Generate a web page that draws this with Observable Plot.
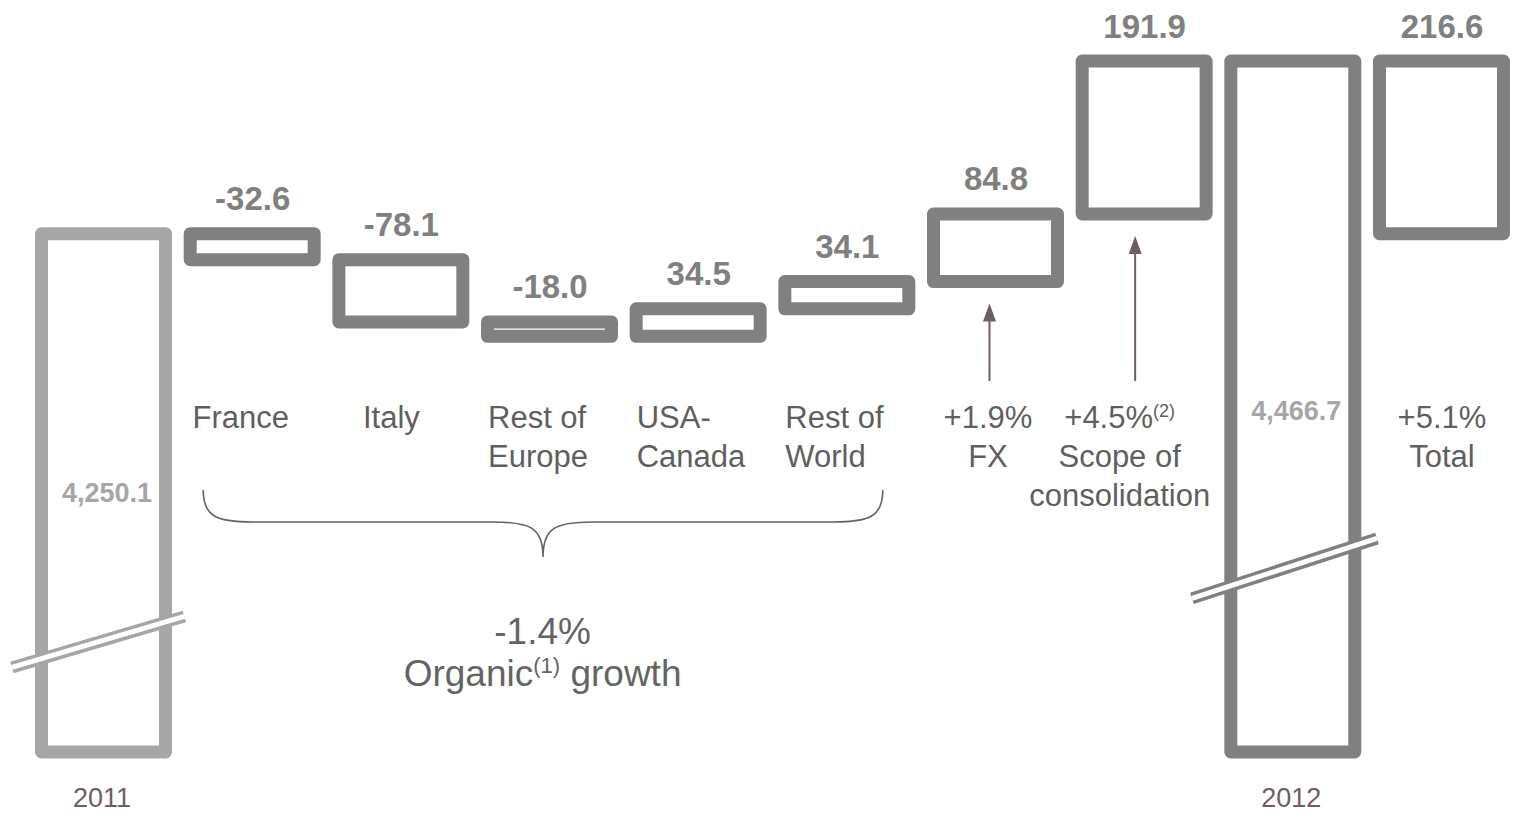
<!DOCTYPE html>
<html><head><meta charset="utf-8">
<script src="https://cdn.jsdelivr.net/npm/d3@7"></script>
<script src="https://cdn.jsdelivr.net/npm/@observablehq/plot@0.6"></script>
<style>
html,body{margin:0;padding:0;background:#fff;}
#chart{width:1516px;height:814px;overflow:hidden;}
#chart svg{font-family:"Liberation Sans", Arial, sans-serif;background:#fff;}
</style></head><body><div id="chart"></div>
<script>
// ---- data ----
const categories = ["2011", "France", "Italy", "Rest of Europe", "USA-Canada", "Rest of World", "FX", "Scope of consolidation", "2012", "Total"];
const values = [4250.1, -32.6, -78.1, -18.0, 34.5, 34.1, 84.8, 191.9, 4466.7, 216.6];
const barKinds = ["start", "delta", "delta", "delta", "delta", "delta", "delta", "delta", "end", "total"];
const categoryLabels = ["", "France", "Italy", "Rest of\nEurope", "USA-\nCanada", "Rest of\nWorld", "+1.9%\nFX", "+4.5%(2)\nScope of\nconsolidation", "", "+5.1%\nTotal"];
const yearLabels = ["2011", "", "", "", "", "", "", "", "2012", ""];
const organicLabel = "-1.4%\nOrganic(1) growth";
const axisFloor = 3600; // broken-axis floor for the two total bars

// ---- derived bars ----
let running = 0;
const bars = categories.map((c, i) => {
  const v = values[i], k = barKinds[i];
  let lo, hi;
  if (k === "start" || k === "end") { lo = axisFloor; hi = v; running = v; }
  else if (k === "delta") { lo = running; hi = running + v; running += v; }
  else { lo = values[0]; hi = values[0] + v; }
  return {i, c, v, k, y1: Math.min(lo, hi), y2: Math.max(lo, hi),
    color: k === "start" ? "#a6a6a6" : "#808080",
    valueText: (k === "delta" || k === "total") ? v.toFixed(1) : "",
    innerText: (k === "start" || k === "end") ? d3.format(",.1f")(v) : "",
    catText: categoryLabels[i], yearText: yearLabels[i]};
});

const HW = 0.417; // half bar width in x units
const fmtAlign = {1: ["middle", -12], 2: ["middle", -10], 3: ["start", 0], 4: ["start", 0], 5: ["start", 0], 6: ["middle", -8], 7: ["middle", -25], 9: ["middle", 0]};

// break marks (in data units)
const breaks = [
  {x1: -0.62, x2: 0.54, y1: 3706.7, y2: 3770.7, color: "#a6a6a6"},
  {x1: 7.318, x2: 8.563, y1: 3793.3, y2: 3868.5, color: "#808080"}
];

function annotations(index, scales) {
  const x = scales.x, y = scales.y;
  const g = d3.create("svg:g");
  const col = "#6d5e66";
  // brace under organic categories (France .. Rest of World)
  const L = x(1 - HW) + 13, R = x(5 + HW) - 26, M = (L + R) / 2;
  const top = 490, mid = 522, tip = 557;
  const p = `M${L},${top} C${L},${mid - 6} ${L + 12},${mid} ${L + 50},${mid} L${M - 50},${mid} C${M - 12},${mid} ${M},${mid + 6} ${M},${tip} C${M},${mid + 6} ${M + 12},${mid} ${M + 50},${mid} L${R - 50},${mid} C${R - 12},${mid} ${R},${mid - 6} ${R},${top}`;
  g.append("path").attr("d", p).attr("fill", "none").attr("stroke", col).attr("stroke-width", 1.6);
  // arrows from labels up to FX and Scope bars
  [[6, -6], [7, -9]].forEach(([i, dx]) => {
    const b = bars[i];
    const ax = x(i) + dx, tipY = y(b.y1) + 22, tail = 381;
    g.append("line").attr("x1", ax).attr("x2", ax).attr("y1", tail).attr("y2", tipY + 14)
      .attr("stroke", col).attr("stroke-width", 2);
    g.append("path").attr("d", `M${ax},${tipY} L${ax - 6.5},${tipY + 18} L${ax + 6.5},${tipY + 18} Z`).attr("fill", col);
  });
  return g.node();
}

const chart = Plot.plot({
  width: 1516, height: 814,
  marginTop: 0, marginRight: 0, marginBottom: 0, marginLeft: 0,
  x: {type: "linear", domain: [-0.5, 9.5], range: [29.2, 1515.8], axis: null},
  y: {domain: [axisFloor, 4466.7], range: [752, 61], axis: null},
  color: {type: "identity"},
  marks: [
    Plot.rect(bars, {x1: d => d.i - HW, x2: d => d.i + HW, y1: "y1", y2: "y2",
      fill: "none", stroke: "color", strokeWidth: 13, strokeLinejoin: "round"}),
    Plot.link(breaks, {x1: "x1", x2: "x2", y1: "y1", y2: "y2", stroke: "color", strokeWidth: 12}),
    Plot.link(breaks, {x1: "x1", x2: "x2", y1: "y1", y2: "y2", stroke: "#ffffff", strokeWidth: 5}),
    Plot.text(bars.filter(d => d.valueText), {x: "i", y: "y2", text: "valueText", fontSize: 33, fontWeight: "bold",
      fill: "#808080", lineAnchor: "bottom", dy: -24, letterSpacing: "1px"}),
    Plot.text(bars.filter(d => d.innerText && d.i === 0), {x: "i", text: "innerText", frameAnchor: "top", lineAnchor: "top",
      dy: 482, dx: 3, fontSize: 27, fontWeight: "bold", fill: "#a6a6a6"}),
    Plot.text(bars.filter(d => d.innerText && d.i === 8), {x: "i", text: "innerText", frameAnchor: "top", lineAnchor: "top",
      dy: 400, dx: 3, fontSize: 27, fontWeight: "bold", fill: "#a6a6a6"}),
    Plot.text(bars.filter(d => d.catText && fmtAlign[d.i][0] === "start"), {x: d => d.i - HW, text: "catText",
      frameAnchor: "top", lineAnchor: "top", dy: 400, dx: 0, textAnchor: "start", fontSize: 31, lineHeight: 1.26, fill: "#5f5f5f"}),
    ...bars.filter(d => d.catText && fmtAlign[d.i][0] === "middle").map(d =>
      Plot.text([d], {x: "i", text: "catText", frameAnchor: "top", lineAnchor: "top", dy: 400, dx: fmtAlign[d.i][1],
        textAnchor: "middle", fontSize: 31, lineHeight: 1.26, fill: "#5f5f5f"})),
    Plot.text(bars.filter(d => d.yearText), {x: "i", text: "yearText", frameAnchor: "top", lineAnchor: "bottom",
      dy: 806, dx: -2, fontSize: 27, fill: "#6d5e66"}),
    Plot.text([organicLabel], {x: () => 2.95, text: d => d, frameAnchor: "top", lineAnchor: "top",
      dy: 613, fontSize: 37, lineHeight: 1.15, fill: "#646464"}),
    annotations
  ]
});
document.getElementById("chart").appendChild(chart);

// superscripts for footnote markers
function superscript(node, marker, size, shift) {
  node.querySelectorAll("text, tspan").forEach(el => {
    for (const child of Array.from(el.childNodes)) {
      if (child.nodeType === 3 && child.nodeValue.includes(marker)) {
        const [before, after] = child.nodeValue.split(marker);
        const ns = "http://www.w3.org/2000/svg";
        const t1 = document.createTextNode(before);
        const sup = document.createElementNS(ns, "tspan");
        sup.setAttribute("font-size", size);
        sup.setAttribute("baseline-shift", shift);
        sup.textContent = marker;
        el.insertBefore(t1, child);
        el.insertBefore(sup, child);
        if (after) {
          const rest = document.createElementNS(ns, "tspan");
          rest.textContent = after;
          el.insertBefore(rest, child);
        }
        el.removeChild(child);
      }
    }
  });
}
superscript(chart, "(1)", 22, 13);
superscript(chart, "(2)", 18, 11);
</script></body></html>
